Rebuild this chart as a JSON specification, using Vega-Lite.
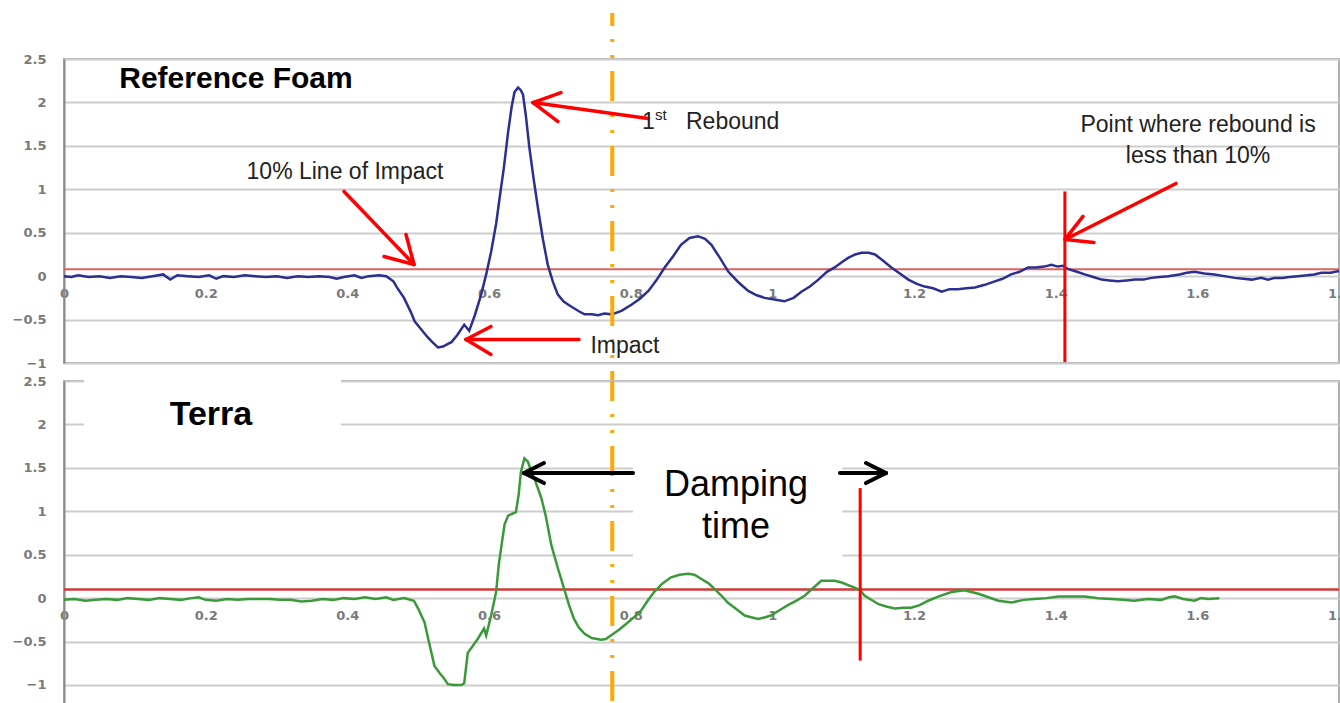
{
  "$schema": "https://vega.github.io/schema/vega-lite/v6.json",
  "padding": {"top": 9, "left": 0, "right": 0, "bottom": 0},
  "background": "white",
  "config": {"view": {"stroke": "#b0b0b0", "strokeWidth": 2}, "font": "Liberation Sans"},
  "bounds": "flush",
  "spacing": 18,
  "datasets": {
    "foam": [
      {"x":0,"y":0},{"x":0.01,"y":-0.01},{"x":0.02,"y":0.01},{"x":0.035,"y":-0.01},{"x":0.05,"y":0.0},{"x":0.065,"y":-0.02},{"x":0.08,"y":0.0},{"x":0.095,"y":-0.01},{"x":0.11,"y":-0.02},{"x":0.125,"y":0.0},{"x":0.14,"y":0.02},{"x":0.15,"y":-0.04},{"x":0.16,"y":0.01},{"x":0.175,"y":0.0},{"x":0.19,"y":-0.01},{"x":0.205,"y":0.01},{"x":0.215,"y":-0.03},{"x":0.225,"y":0.0},{"x":0.24,"y":-0.01},{"x":0.255,"y":0.01},{"x":0.27,"y":0.0},{"x":0.285,"y":-0.01},{"x":0.3,"y":0.0},{"x":0.315,"y":-0.02},{"x":0.33,"y":0.0},{"x":0.345,"y":-0.01},{"x":0.36,"y":0.0},{"x":0.375,"y":-0.01},{"x":0.385,"y":-0.03},{"x":0.395,"y":-0.01},{"x":0.41,"y":0.01},{"x":0.42,"y":-0.02},{"x":0.43,"y":0.0},{"x":0.445,"y":0.01},{"x":0.455,"y":0.0},
      {"x":0.465,"y":-0.06},{"x":0.47,"y":-0.13},{"x":0.48,"y":-0.25},{"x":0.49,"y":-0.42},{"x":0.495,"y":-0.52},{"x":0.505,"y":-0.62},{"x":0.513,"y":-0.7},{"x":0.52,"y":-0.76},{"x":0.528,"y":-0.82},{"x":0.535,"y":-0.81},{"x":0.542,"y":-0.78},{"x":0.547,"y":-0.76},{"x":0.555,"y":-0.68},{"x":0.56,"y":-0.62},{"x":0.565,"y":-0.56},{"x":0.572,"y":-0.63},{"x":0.58,"y":-0.45},{"x":0.589,"y":-0.21},{"x":0.596,"y":0.02},{"x":0.603,"y":0.28},{"x":0.61,"y":0.6},{"x":0.615,"y":0.9},{"x":0.621,"y":1.25},{"x":0.627,"y":1.66},{"x":0.632,"y":1.95},{"x":0.636,"y":2.12},{"x":0.641,"y":2.17},{"x":0.645,"y":2.14},{"x":0.648,"y":2.09},{"x":0.652,"y":1.85},{"x":0.657,"y":1.48},{"x":0.663,"y":1.12},{"x":0.669,"y":0.79},{"x":0.676,"y":0.43},{"x":0.683,"y":0.13},{"x":0.69,"y":-0.06},{"x":0.697,"y":-0.21},{"x":0.705,"y":-0.29},{"x":0.712,"y":-0.33},{"x":0.72,"y":-0.37},{"x":0.728,"y":-0.41},{"x":0.735,"y":-0.44},{"x":0.745,"y":-0.44},{"x":0.754,"y":-0.45},{"x":0.763,"y":-0.43},{"x":0.773,"y":-0.44},{"x":0.787,"y":-0.4},{"x":0.801,"y":-0.33},{"x":0.813,"y":-0.26},{"x":0.825,"y":-0.17},{"x":0.837,"y":-0.04},{"x":0.848,"y":0.1},{"x":0.86,"y":0.23},{"x":0.871,"y":0.36},{"x":0.883,"y":0.44},{"x":0.895,"y":0.46},{"x":0.905,"y":0.43},{"x":0.914,"y":0.36},{"x":0.926,"y":0.21},{"x":0.938,"y":0.05},{"x":0.952,"y":-0.07},{"x":0.966,"y":-0.17},{"x":0.978,"y":-0.22},{"x":0.989,"y":-0.25},{"x":1.003,"y":-0.27},{"x":1.017,"y":-0.29},{"x":1.03,"y":-0.25},{"x":1.041,"y":-0.18},{"x":1.053,"y":-0.12},{"x":1.065,"y":-0.04},{"x":1.077,"y":0.05},{"x":1.088,"y":0.1},{"x":1.098,"y":0.16},{"x":1.107,"y":0.21},{"x":1.117,"y":0.25},{"x":1.126,"y":0.27},{"x":1.136,"y":0.27},{"x":1.145,"y":0.25},{"x":1.156,"y":0.18},{"x":1.168,"y":0.1},{"x":1.18,"y":0.03},{"x":1.192,"y":-0.04},{"x":1.204,"y":-0.09},{"x":1.215,"y":-0.12},{"x":1.227,"y":-0.14},{"x":1.239,"y":-0.18},{"x":1.25,"y":-0.15},{"x":1.262,"y":-0.15},{"x":1.274,"y":-0.14},{"x":1.286,"y":-0.13},{"x":1.3,"y":-0.1},{"x":1.314,"y":-0.06},{"x":1.325,"y":-0.03},{"x":1.337,"y":0.02},{"x":1.349,"y":0.05},{"x":1.361,"y":0.1},{"x":1.372,"y":0.1},{"x":1.384,"y":0.11},{"x":1.394,"y":0.13},{"x":1.403,"y":0.11},{"x":1.41,"y":0.12},{"x":1.418,"y":0.08},{"x":1.43,"y":0.05},{"x":1.441,"y":0.02},{"x":1.453,"y":-0.01},{"x":1.465,"y":-0.04},{"x":1.476,"y":-0.05},{"x":1.488,"y":-0.06},{"x":1.5,"y":-0.05},{"x":1.512,"y":-0.04},{"x":1.524,"y":-0.04},{"x":1.535,"y":-0.02},{"x":1.547,"y":-0.01},{"x":1.559,"y":0.0},{"x":1.575,"y":0.02},{"x":1.585,"y":0.04},{"x":1.596,"y":0.05},{"x":1.61,"y":0.03},{"x":1.624,"y":0.02},{"x":1.638,"y":0.0},{"x":1.653,"y":-0.02},{"x":1.665,"y":-0.03},{"x":1.677,"y":-0.04},{"x":1.69,"y":-0.02},{"x":1.7,"y":-0.04},{"x":1.709,"y":-0.02},{"x":1.72,"y":-0.02},{"x":1.73,"y":-0.01},{"x":1.742,"y":0.0},{"x":1.755,"y":0.01},{"x":1.765,"y":0.02},{"x":1.775,"y":0.04},{"x":1.788,"y":0.04},{"x":1.8,"y":0.06}
    ],
    "terra": [
      {"x":0,"y":-0.02},{"x":0.015,"y":-0.01},{"x":0.03,"y":-0.03},{"x":0.045,"y":-0.02},{"x":0.06,"y":-0.01},{"x":0.075,"y":-0.02},{"x":0.09,"y":0.0},{"x":0.105,"y":-0.01},{"x":0.12,"y":-0.02},{"x":0.135,"y":0.0},{"x":0.15,"y":-0.01},{"x":0.165,"y":-0.02},{"x":0.18,"y":0.0},{"x":0.19,"y":0.01},{"x":0.2,"y":-0.02},{"x":0.215,"y":-0.03},{"x":0.23,"y":-0.01},{"x":0.245,"y":-0.02},{"x":0.26,"y":-0.01},{"x":0.275,"y":-0.01},{"x":0.29,"y":-0.01},{"x":0.305,"y":-0.02},{"x":0.32,"y":-0.02},{"x":0.335,"y":-0.04},{"x":0.35,"y":-0.03},{"x":0.365,"y":-0.01},{"x":0.38,"y":-0.02},{"x":0.395,"y":0.0},{"x":0.41,"y":-0.01},{"x":0.425,"y":0.01},{"x":0.44,"y":-0.01},{"x":0.455,"y":0.01},{"x":0.465,"y":-0.02},{"x":0.48,"y":0.0},{"x":0.494,"y":-0.03},
      {"x":0.5,"y":-0.12},{"x":0.509,"y":-0.28},{"x":0.515,"y":-0.5},{"x":0.523,"y":-0.78},{"x":0.53,"y":-0.86},{"x":0.536,"y":-0.92},{"x":0.542,"y":-0.99},{"x":0.55,"y":-1.0},{"x":0.561,"y":-1.0},{"x":0.565,"y":-0.98},{"x":0.57,"y":-0.63},{"x":0.577,"y":-0.55},{"x":0.584,"y":-0.47},{"x":0.593,"y":-0.35},{"x":0.596,"y":-0.43},{"x":0.603,"y":-0.2},{"x":0.61,"y":0.07},{"x":0.614,"y":0.4},{"x":0.617,"y":0.57},{"x":0.622,"y":0.85},{"x":0.627,"y":0.95},{"x":0.638,"y":0.99},{"x":0.642,"y":1.2},{"x":0.645,"y":1.45},{"x":0.65,"y":1.61},{"x":0.655,"y":1.57},{"x":0.66,"y":1.45},{"x":0.664,"y":1.38},{"x":0.674,"y":1.15},{"x":0.68,"y":0.95},{"x":0.688,"y":0.61},{"x":0.697,"y":0.35},{"x":0.706,"y":0.11},{"x":0.713,"y":-0.08},{"x":0.72,"y":-0.24},{"x":0.727,"y":-0.34},{"x":0.735,"y":-0.41},{"x":0.745,"y":-0.46},{"x":0.758,"y":-0.48},{"x":0.765,"y":-0.47},{"x":0.772,"y":-0.43},{"x":0.784,"y":-0.36},{"x":0.796,"y":-0.28},{"x":0.806,"y":-0.21},{"x":0.815,"y":-0.14},{"x":0.824,"y":-0.03},{"x":0.833,"y":0.07},{"x":0.845,"y":0.17},{"x":0.857,"y":0.24},{"x":0.869,"y":0.27},{"x":0.881,"y":0.28},{"x":0.89,"y":0.27},{"x":0.9,"y":0.22},{"x":0.91,"y":0.17},{"x":0.918,"y":0.11},{"x":0.928,"y":0.03},{"x":0.937,"y":-0.05},{"x":0.95,"y":-0.13},{"x":0.961,"y":-0.2},{"x":0.97,"y":-0.22},{"x":0.98,"y":-0.24},{"x":0.99,"y":-0.22},{"x":0.998,"y":-0.2},{"x":1.01,"y":-0.14},{"x":1.022,"y":-0.08},{"x":1.034,"y":-0.03},{"x":1.046,"y":0.03},{"x":1.058,"y":0.12},{"x":1.069,"y":0.2},{"x":1.078,"y":0.2},{"x":1.088,"y":0.2},{"x":1.098,"y":0.18},{"x":1.107,"y":0.15},{"x":1.116,"y":0.12},{"x":1.124,"y":0.09},{"x":1.13,"y":0.03},{"x":1.15,"y":-0.07},{"x":1.162,"y":-0.1},{"x":1.173,"y":-0.12},{"x":1.185,"y":-0.11},{"x":1.196,"y":-0.11},{"x":1.208,"y":-0.08},{"x":1.22,"y":-0.03},{"x":1.235,"y":0.02},{"x":1.253,"y":0.07},{"x":1.271,"y":0.09},{"x":1.281,"y":0.07},{"x":1.291,"y":0.05},{"x":1.305,"y":0.01},{"x":1.319,"y":-0.03},{"x":1.338,"y":-0.05},{"x":1.355,"y":-0.02},{"x":1.37,"y":-0.01},{"x":1.387,"y":0.0},{"x":1.404,"y":0.02},{"x":1.42,"y":0.02},{"x":1.441,"y":0.02},{"x":1.46,"y":0.0},{"x":1.479,"y":-0.01},{"x":1.495,"y":-0.02},{"x":1.511,"y":-0.03},{"x":1.53,"y":-0.01},{"x":1.549,"y":-0.02},{"x":1.56,"y":0.01},{"x":1.568,"y":0.02},{"x":1.58,"y":-0.01},{"x":1.596,"y":-0.03},{"x":1.605,"y":0.0},{"x":1.615,"y":-0.01},{"x":1.631,"y":0.0}
    ]
  },
  "vconcat": [
    {
      "width": 1275,
      "height": 304,
      "encoding": {
        "x": {"field": "x", "type": "quantitative", "scale": {"domain": [0, 1.8], "nice": false, "zero": false},
          "axis": {"values": [0,0.2,0.4,0.6,0.8,1,1.2,1.4,1.6,1.8], "format": "~g", "orient": "bottom", "offset": -87, "domain": false, "ticks": false, "grid": false, "labelFont": "DejaVu Sans", "labelFontWeight": "bold", "labelFontSize": 13, "labelColor": "#7a7a7a", "labelPadding": 11, "title": null, "labelFlush": false, "labelOverlap": false, "zindex": 0}},
        "y": {"field": "y", "type": "quantitative", "scale": {"domain": [-1, 2.5], "nice": false, "zero": false},
          "axis": {"values": [-1,-0.5,0,0.5,1,1.5,2,2.5], "format": "~g", "grid": true, "gridColor": "#cdcdcd", "gridWidth": 2, "domain": true, "domainColor": "#8a8a8a", "domainWidth": 2, "ticks": false, "tickSize": 0, "labelFont": "DejaVu Sans", "labelFontWeight": "bold", "labelFontSize": 13, "labelColor": "#7a7a7a", "labelPadding": 18, "minExtent": 63, "maxExtent": 63, "title": null, "labelOverlap": false, "zindex": 0}}
      },
      "layer": [
        {"data": {"values": [{"x": 0, "y": 0.08}, {"x": 1.8, "y": 0.08}]}, "mark": {"type": "line", "color": "#e06060", "strokeWidth": 2}},
        {"data": {"name": "foam"}, "mark": {"type": "line", "color": "#2b2f8f", "strokeWidth": 2.5}},
        {"data": {"values": [{"x": 0.774, "y": 3.03, "y2": -1.207}]}, "mark": {"type": "rule", "color": "#ffaa00", "strokeWidth": 4, "strokeDash": [30, 13, 3, 13, 3, 13], "strokeDashOffset": 17}, "encoding": {"y2": {"field": "y2"}}},
        {"data": {"values": [{"x": 1.413, "y": 0.975, "y2": -0.99}]}, "mark": {"type": "rule", "color": "#ff0000", "strokeWidth": 3}, "encoding": {"y2": {"field": "y2"}}},
        {"data": {"values": [
          {"x": 0.3953, "y": 0.9752, "x2": 0.4941, "y2": 0.1347},
          {"x": 0.4518, "y": 0.2268, "x2": 0.4941, "y2": 0.1347},
          {"x": 0.4828, "y": 0.4801, "x2": 0.4941, "y2": 0.1347},
          {"x": 0.8245, "y": 1.8145, "x2": 0.6621, "y2": 1.9987},
          {"x": 0.7016, "y": 2.1138, "x2": 0.6621, "y2": 1.9987},
          {"x": 0.6974, "y": 1.7799, "x2": 0.6621, "y2": 1.9987},
          {"x": 0.7271, "y": -0.7287, "x2": 0.5675, "y2": -0.7287},
          {"x": 0.6028, "y": -0.579, "x2": 0.5675, "y2": -0.7287},
          {"x": 0.6028, "y": -0.9014, "x2": 0.5675, "y2": -0.7287},
          {"x": 1.5699, "y": 1.0673, "x2": 1.4132, "y2": 0.4225},
          {"x": 1.4386, "y": 0.6873, "x2": 1.4132, "y2": 0.4225},
          {"x": 1.4541, "y": 0.388, "x2": 1.4132, "y2": 0.4225}
        ]}, "mark": {"type": "rule", "color": "#ff0000", "strokeWidth": 3.5, "strokeCap": "round"}, "encoding": {"x2": {"field": "x2"}, "y2": {"field": "y2"}}},
        {"data": {"values": [{"x": 0.2428, "y": 2.2647, "label": "Reference Foam"}]}, "mark": {"type": "text", "font": "Liberation Sans", "fontWeight": "bold", "fontSize": 30, "color": "#000000", "align": "center", "baseline": "middle"}, "encoding": {"text": {"field": "label"}}},
        {"data": {"values": [
          {"x": 0.3967, "y": 1.194, "label": "10% Line of Impact"},
          {"x": 0.792, "y": -0.809, "label": "Impact"},
          {"x": 1.601, "y": 1.7454, "label": "Point where rebound is"},
          {"x": 1.601, "y": 1.378, "label": "less than 10%"}
        ]}, "mark": {"type": "text", "font": "Liberation Sans", "fontSize": 23, "color": "#222222", "align": "center", "baseline": "middle"}, "encoding": {"text": {"field": "label"}}},
        {"data": {"values": [{"x": 0.816, "y": 1.7696, "label": "1"}, {"x": 0.8781, "y": 1.7696, "label": "Rebound"}]}, "mark": {"type": "text", "font": "Liberation Sans", "fontSize": 23, "color": "#222222", "align": "left", "baseline": "middle"}, "encoding": {"text": {"field": "label"}}},
        {"data": {"values": [{"x": 0.8345, "y": 1.86, "label": "st"}]}, "mark": {"type": "text", "font": "Liberation Sans", "fontSize": 15, "color": "#222222", "align": "left", "baseline": "middle"}, "encoding": {"text": {"field": "label"}}}
      ]
    },
    {
      "width": 1275,
      "height": 326,
      "encoding": {
        "x": {"field": "x", "type": "quantitative", "scale": {"domain": [0, 1.8], "nice": false, "zero": false},
          "axis": {"values": [0,0.2,0.4,0.6,0.8,1,1.2,1.4,1.6,1.8], "format": "~g", "orient": "bottom", "offset": -109, "domain": false, "ticks": false, "grid": false, "labelFont": "DejaVu Sans", "labelFontWeight": "bold", "labelFontSize": 13, "labelColor": "#7a7a7a", "labelPadding": 11, "title": null, "labelFlush": false, "labelOverlap": false, "zindex": 0}},
        "y": {"field": "y", "type": "quantitative", "scale": {"domain": [-1.2535, 2.5], "nice": false, "zero": false},
          "axis": {"values": [-1,-0.5,0,0.5,1,1.5,2,2.5], "format": "~g", "grid": true, "gridColor": "#cdcdcd", "gridWidth": 2, "domain": true, "domainColor": "#8a8a8a", "domainWidth": 2, "ticks": false, "tickSize": 0, "labelFont": "DejaVu Sans", "labelFontWeight": "bold", "labelFontSize": 13, "labelColor": "#7a7a7a", "labelPadding": 18, "minExtent": 63, "maxExtent": 63, "title": null, "labelOverlap": false, "zindex": 0}}
      },
      "layer": [
        {"data": {"values": [{"x": 0.0282, "y": 2.6, "x2": 0.391, "y2": 1.97}, {"x": 0.8033, "y": 1.763, "x2": 1.0988, "y2": 0.378}]}, "mark": {"type": "rect", "color": "#ffffff"}, "encoding": {"x2": {"field": "x2"}, "y2": {"field": "y2"}}},
        {"data": {"values": [{"x": 0, "y": 0.1}, {"x": 1.8, "y": 0.1}]}, "mark": {"type": "line", "color": "#d03a3a", "strokeWidth": 2.5}},
        {"data": {"name": "terra"}, "mark": {"type": "line", "color": "#3a9a3a", "strokeWidth": 2.5}},
        {"data": {"values": [{"x": 0.774, "y": 2.5, "y2": -1.2535}]}, "mark": {"type": "rule", "color": "#ffaa00", "strokeWidth": 4, "strokeDash": [30, 13, 3, 13, 3, 13], "strokeDashOffset": 10}, "encoding": {"y2": {"field": "y2"}}},
        {"data": {"values": [{"x": 1.124, "y": 1.267, "y2": -0.719}]}, "mark": {"type": "rule", "color": "#ff0000", "strokeWidth": 3}, "encoding": {"y2": {"field": "y2"}}},
        {"data": {"values": [
          {"x": 0.8033, "y": 1.44, "x2": 0.6494, "y2": 1.44},
          {"x": 0.6776, "y": 1.555, "x2": 0.6494, "y2": 1.44},
          {"x": 0.6776, "y": 1.325, "x2": 0.6494, "y2": 1.44},
          {"x": 1.0955, "y": 1.44, "x2": 1.1605, "y2": 1.44},
          {"x": 1.1322, "y": 1.555, "x2": 1.1605, "y2": 1.44},
          {"x": 1.1322, "y": 1.325, "x2": 1.1605, "y2": 1.44}
        ]}, "mark": {"type": "rule", "color": "#000000", "strokeWidth": 4, "strokeCap": "round"}, "encoding": {"x2": {"field": "x2"}, "y2": {"field": "y2"}}},
        {"data": {"values": [{"x": 0.2075, "y": 2.11, "label": "Terra"}]}, "mark": {"type": "text", "font": "Liberation Sans", "fontWeight": "bold", "fontSize": 34, "color": "#000000", "align": "center", "baseline": "middle"}, "encoding": {"text": {"field": "label"}}},
        {"data": {"values": [{"x": 0.9487, "y": 1.301, "label": "Damping"}, {"x": 0.9487, "y": 0.816, "label": "time"}]}, "mark": {"type": "text", "font": "Liberation Sans", "fontSize": 36, "color": "#000000", "align": "center", "baseline": "middle"}, "encoding": {"text": {"field": "label"}}}
      ]
    }
  ]
}
